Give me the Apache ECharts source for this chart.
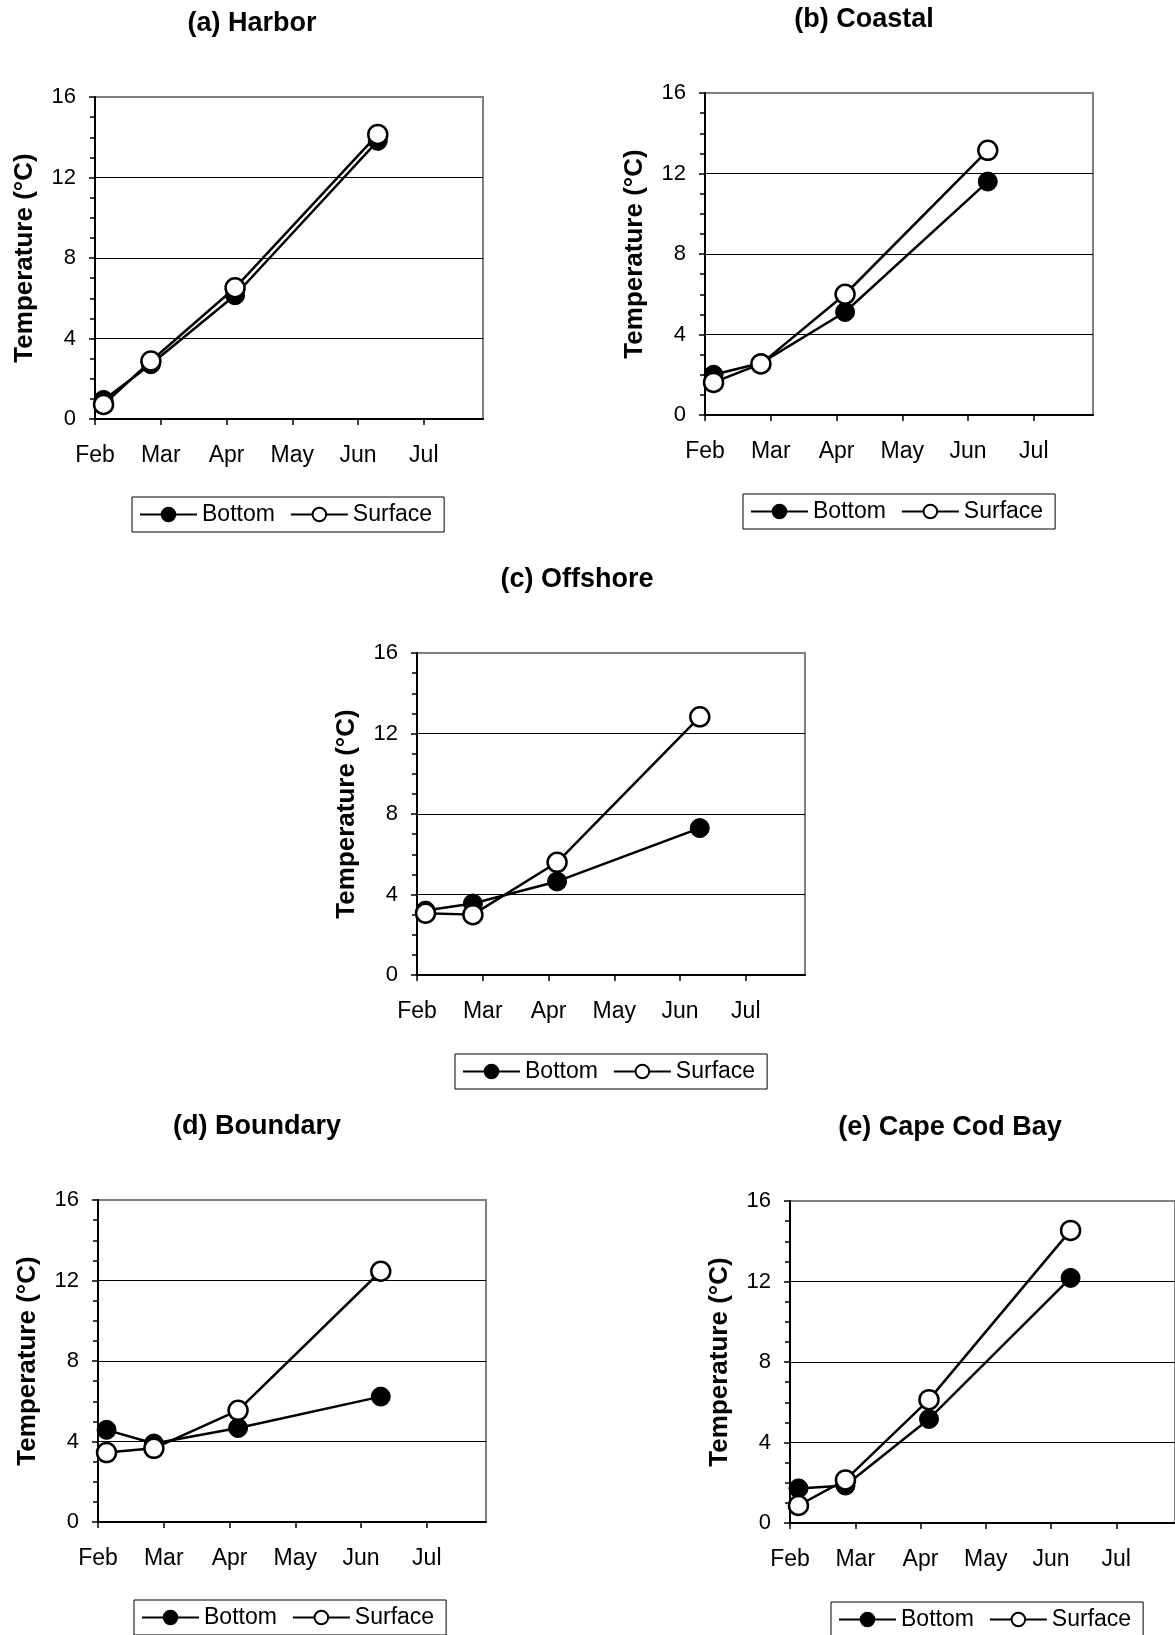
<!DOCTYPE html>
<html>
<head>
<meta charset="utf-8">
<script src="https://cdn.jsdelivr.net/npm/echarts@6/dist/echarts.min.js"></script>
<style>
  html, body { margin: 0; padding: 0; background: #fff; }
  #chart { width: 1175px; height: 1635px; }
</style>
</head>
<body>
<div id="chart"></div>
<script>
// ---- data ----
const months = ['Feb', 'Mar', 'Apr', 'May', 'Jun', 'Jul'];
const monthTicks = [0, 1, 2, 3, 4, 5];
const yTicks = [0, 4, 8, 12, 16];
// survey times, in months after 1 Feb
const sampleTimes = [0.13, 0.85, 2.13, 4.3];

const panelTitles = ['(a) Harbor', '(b) Coastal', '(c) Offshore', '(d) Boundary', '(e) Cape Cod Bay'];
const seriesNames = ['Bottom', 'Surface'];

const harborBottom = [0.95, 2.72, 6.15, 13.82];
const harborSurface = [0.72, 2.88, 6.52, 14.14];
const coastalBottom = [2.0, 2.58, 5.12, 11.6];
const coastalSurface = [1.62, 2.54, 6.0, 13.15];
const offshoreBottom = [3.2, 3.55, 4.65, 7.3];
const offshoreSurface = [3.07, 3.0, 5.6, 12.83];
const boundaryBottom = [4.58, 3.9, 4.67, 6.23];
const boundarySurface = [3.45, 3.66, 5.55, 12.46];
const capeCodBottom = [1.72, 1.86, 5.17, 12.18];
const capeCodSurface = [0.87, 2.14, 6.13, 14.54];

// ---- layout (separate from data) ----
const FONT = "'Liberation Sans', Arial, Helvetica, sans-serif";
const panels = [
  { grid: { left: 95, top: 97, width: 388, height: 322 }, title: { x: 252, y: 10 }, legend: { x: 132, y: 497 }, bottom: harborBottom, surface: harborSurface },
  { grid: { left: 705, top: 93, width: 388, height: 322 }, title: { x: 864, y: 6 }, legend: { x: 743, y: 494 }, bottom: coastalBottom, surface: coastalSurface },
  { grid: { left: 417, top: 653, width: 388, height: 322 }, title: { x: 577, y: 566 }, legend: { x: 455, y: 1054 }, bottom: offshoreBottom, surface: offshoreSurface },
  { grid: { left: 98, top: 1200, width: 388, height: 322 }, title: { x: 257, y: 1113 }, legend: { x: 134, y: 1600 }, bottom: boundaryBottom, surface: boundarySurface },
  { grid: { left: 790, top: 1201, width: 388, height: 322 }, title: { x: 950, y: 1114 }, legend: { x: 831, y: 1602 }, bottom: capeCodBottom, surface: capeCodSurface }
];

const grids = [], xAxes = [], yAxes = [], titles = [], legends = [], series = [];

panels.forEach((p, i) => {
  grids.push(Object.assign({ show: true, borderColor: '#808080', borderWidth: 2, backgroundColor: 'transparent' }, p.grid));
  titles.push({
    text: panelTitles[i], left: p.title.x, top: p.title.y, textAlign: 'center', padding: 0,
    textStyle: { fontFamily: FONT, fontSize: 27, fontWeight: 'bold', color: '#000' }
  });
  xAxes.push({
    type: 'value', gridIndex: i, min: 0, max: 5.9,
    axisLine: { show: true, onZero: false, lineStyle: { color: '#000', width: 2 } },
    axisTick: { show: true, customValues: monthTicks, length: 6, lineStyle: { color: '#000', width: 1.5 } },
    axisLabel: { customValues: monthTicks, formatter: v => months[Math.round(v)] || '', fontFamily: FONT, fontSize: 23, color: '#000', margin: 25 },
    splitLine: { show: false }
  });
  yAxes.push({
    type: 'value', gridIndex: i, min: 0, max: 16, interval: 4,
    name: 'Temperature (°C)', nameLocation: 'middle', nameGap: 57, nameRotate: 90,
    nameTextStyle: { fontFamily: FONT, fontSize: 26, fontWeight: 'bold', color: '#000' },
    axisLine: { show: true, lineStyle: { color: '#000', width: 2 } },
    axisTick: { show: true, length: 6, lineStyle: { color: '#000', width: 1.5 } },
    minorTick: { show: true, splitNumber: 4, length: 5, lineStyle: { color: '#000', width: 1.5 } },
    axisLabel: { customValues: yTicks, fontFamily: FONT, fontSize: 22, color: '#000', margin: 19 },
    splitLine: { show: true, showMinLine: false, showMaxLine: false, lineStyle: { color: '#000', width: 1 } }
  });
  legends.push({
    data: seriesNames, left: p.legend.x, top: p.legend.y, orient: 'horizontal',
    itemWidth: 57, itemHeight: 17, itemGap: 15, padding: [6, 12, 6, 7],
    borderColor: '#000', borderWidth: 1, backgroundColor: '#fff',
    selectedMode: false,
    textStyle: { fontFamily: FONT, fontSize: 23, color: '#000' }
  });
  const mk = (name, vals, filled) => ({
    name, type: 'line', xAxisIndex: i, yAxisIndex: i,
    data: sampleTimes.map((t, j) => [t, vals[j]]),
    symbol: 'circle', symbolSize: 19,
    lineStyle: { color: '#000', width: 2.5 },
    itemStyle: { color: filled ? '#000' : '#fff', borderColor: '#000', borderWidth: filled ? 1 : 2.5 },
    emphasis: { disabled: true }, silent: true, animation: false
  });
  series.push(mk(seriesNames[0], p.bottom, true));
  series.push(mk(seriesNames[1], p.surface, false));
});

const chart = echarts.init(document.getElementById('chart'), null, { renderer: 'canvas' });
chart.setOption({
  backgroundColor: '#fff',
  animation: false,
  title: titles,
  legend: legends,
  grid: grids,
  xAxis: xAxes,
  yAxis: yAxes,
  series: series
});
</script>
</body>
</html>
